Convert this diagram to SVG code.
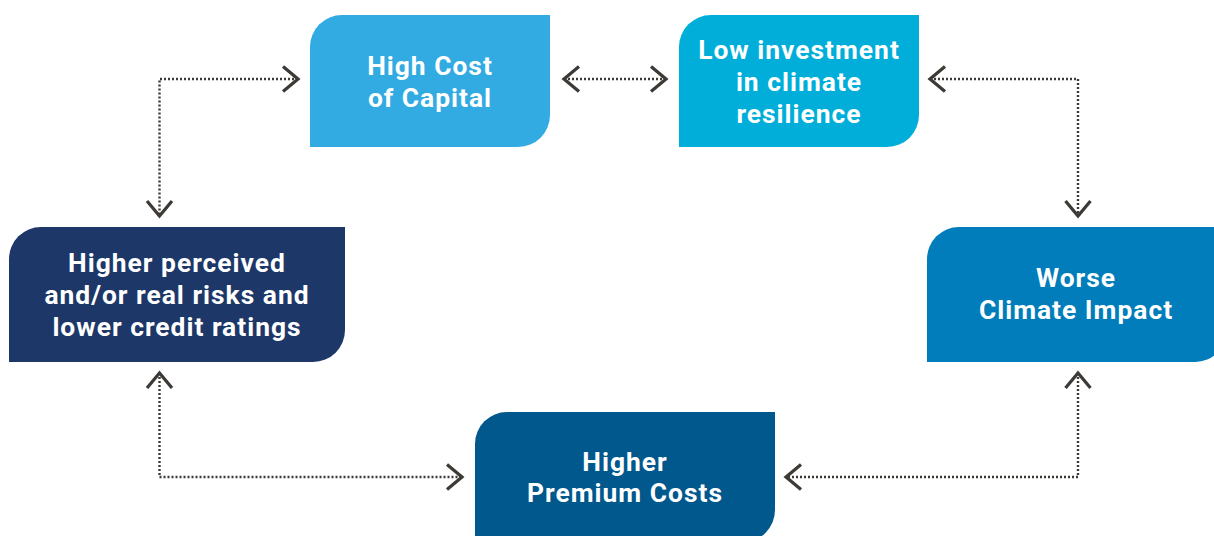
<svg xmlns="http://www.w3.org/2000/svg" width="1214" height="536" viewBox="0 0 1214 536">
<style>
.lbl{font-family:Roboto,"Liberation Sans",sans-serif;font-weight:700;font-size:26.4px;letter-spacing:1px;fill:#ffffff;text-anchor:middle}
.con{fill:none;stroke:#3d3935;stroke-width:2.4;stroke-dasharray:2 2}
.head{fill:none;stroke:#3d3935;stroke-width:2.6;stroke-linejoin:miter}
</style>
<defs>
<marker id="chev" markerUnits="userSpaceOnUse" markerWidth="30" markerHeight="30" viewBox="-16 -12 20 24" refX="0" refY="0" orient="auto-start-reverse" overflow="visible">
<path class="head" d="M-12,-10 L0,0 L-12,10"/>
</marker>
</defs>
<rect width="1214" height="536" fill="#ffffff"/>
<g id="connectors">
<path class="con" d="M298,79 H159.5 V216" marker-start="url(#chev)" marker-end="url(#chev)"/>
<path class="con" d="M564,79 H666" marker-start="url(#chev)" marker-end="url(#chev)"/>
<path class="con" d="M930,79 H1078 V216" marker-start="url(#chev)" marker-end="url(#chev)"/>
<path class="con" d="M1078,373 V477 H786" marker-start="url(#chev)" marker-end="url(#chev)"/>
<path class="con" d="M159.5,373 V477 H462" marker-start="url(#chev)" marker-end="url(#chev)"/>
</g>
<g id="node-high-cost">
<path fill="#31abe1" d="M342,15 H550 V115 A32,32 0 0 1 518,147 H310 V47 A32,32 0 0 1 342,15 Z"/>
<text class="lbl" x="430" y="75">High Cost</text>
<text class="lbl" x="430" y="107">of Capital</text>
</g>
<g id="node-low-investment">
<path fill="#00aed9" d="M711,15 H919 V115 A32,32 0 0 1 887,147 H679 V47 A32,32 0 0 1 711,15 Z"/>
<text class="lbl" x="799" y="59">Low investment</text>
<text class="lbl" x="799" y="91">in climate</text>
<text class="lbl" x="799" y="123">resilience</text>
</g>
<g id="node-worse-impact">
<path fill="#007dba" d="M959,227 H1227 V330 A32,32 0 0 1 1195,362 H927 V259 A32,32 0 0 1 959,227 Z"/>
<text class="lbl" x="1076" y="287">Worse</text>
<text class="lbl" x="1076" y="319">Climate Impact</text>
</g>
<g id="node-higher-risks">
<path fill="#1d3768" d="M41,227 H345 V330 A32,32 0 0 1 313,362 H9 V259 A32,32 0 0 1 41,227 Z"/>
<text class="lbl" x="177" y="272">Higher perceived</text>
<text class="lbl" x="177" y="304">and/or real risks and</text>
<text class="lbl" x="177" y="336">lower credit ratings</text>
</g>
<g id="node-premium">
<path fill="#01588d" d="M507,412 H775 V510 A32,32 0 0 1 743,542 H475 V444 A32,32 0 0 1 507,412 Z"/>
<text class="lbl" x="625" y="471">Higher</text>
<text class="lbl" x="625" y="502">Premium Costs</text>
</g>
</svg>
